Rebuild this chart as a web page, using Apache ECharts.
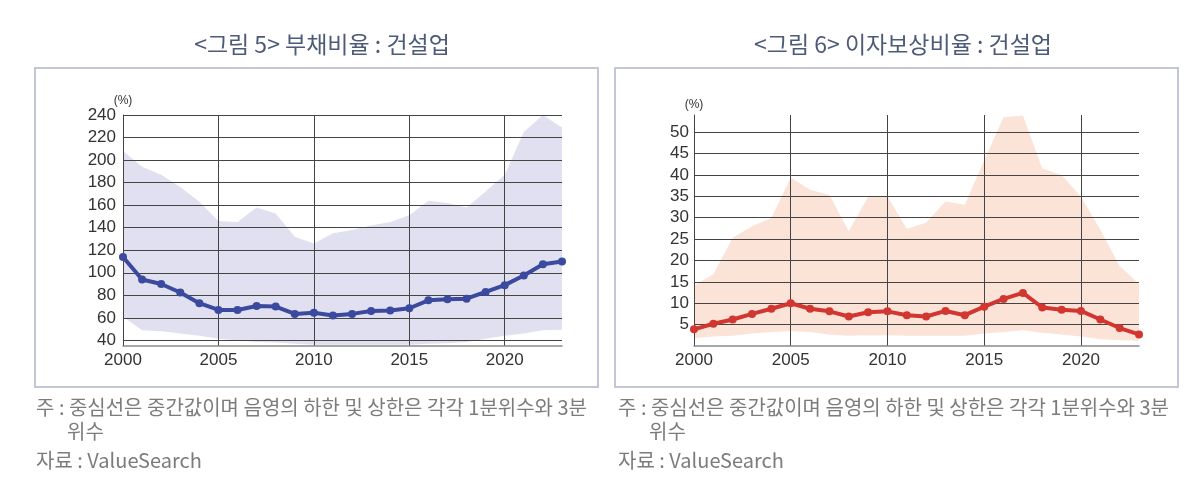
<!DOCTYPE html>
<html><head><meta charset="utf-8">
<script src="https://cdn.jsdelivr.net/npm/echarts@6/dist/echarts.min.js"></script>
<style>html,body{margin:0;padding:0;background:#fff}#c{width:1200px;height:498px}</style>
</head><body><div id="c"></div>
<script>
const years = ['2000','2001','2002','2003','2004','2005','2006','2007','2008','2009','2010','2011','2012','2013','2014','2015','2016','2017','2018','2019','2020','2021','2022','2023'];

// 그림 5: 부채비율
const debtMedian = [114, 94, 90, 82.5, 73, 67, 67, 70.5, 70, 63.5, 64.5, 62, 63.5, 66, 66.5, 68.5, 75.5, 76.5, 77, 83, 89, 97.5, 107.5, 110];
const debtQ1     = [61, 49, 48, 46, 44, 41.5, 40, 38.5, 38, 37, 36, 36, 36, 36, 36, 36, 37, 37.5, 38.5, 41.5, 44, 46, 49, 49.5];
const debtQ3     = [208, 194, 187, 176, 163, 146, 145, 158, 152.5, 132, 126, 135, 138, 142, 145, 151, 164, 162, 158, 172, 187, 225, 240, 229];
const debtTicks  = [40, 60, 80, 100, 120, 140, 160, 180, 200, 220, 240];

// 그림 6: 이자보상비율
const icrMedian = [3.9, 5.2, 6.2, 7.5, 8.7, 10.0, 8.7, 8.1, 6.9, 7.9, 8.1, 7.2, 6.9, 8.2, 7.2, 9.2, 11.0, 12.4, 9.0, 8.5, 8.2, 6.2, 4.2, 2.7];
const icrQ1     = [1.8, 2.2, 2.4, 2.9, 3.3, 3.5, 3.3, 2.7, 2.4, 2.5, 2.5, 2.4, 2.4, 2.4, 2.4, 2.9, 3.3, 3.7, 3.1, 2.7, 2.2, 1.6, 1.4, 1.2];
const icrQ3     = [14.1, 16.8, 25.3, 28, 29.9, 39.4, 36.5, 35.3, 26.8, 34.9, 34.9, 27.4, 28.8, 33.8, 33, 43.4, 53.5, 53.9, 41.5, 40, 34.9, 27.2, 18.7, 14.5];
const icrTicks  = [5, 10, 15, 20, 25, 30, 35, 40, 45, 50];

const titles = ['<그림 5> 부채비율 : 건설업', '<그림 6> 이자보상비율 : 건설업'];
const noteLine1 = '주 : 중심선은 중간값이며 음영의 하한 및 상한은 각각 1분위수와 3분';
const noteLine2 = '위수';
const sourceText = '자료 : ValueSearch';

const diff = (hi, lo) => hi.map((v, i) => +(v - lo[i]).toFixed(2));

const FONT_NUM = 'Liberation Sans';
const FONT_KR = '"Noto Sans CJK KR", "Noto Sans", sans-serif';

function xAxisCfg(gridIndex) {
  return {
    type: 'category', gridIndex, data: years, boundaryGap: false, z: 3,
    axisLine: { show: true, lineStyle: { color: '#8a8a8a', width: 1.5 } },
    axisTick: { show: false },
    axisLabel: { interval: (i) => i % 5 === 0, color: '#333', fontSize: 17, fontFamily: FONT_NUM, margin: 6 },
    splitLine: { show: true, interval: (i) => i % 5 === 0, lineStyle: { color: '#444', width: 1 } }
  };
}
function yAxisCfg(gridIndex, min, max, ticks, margin) {
  return {
    type: 'value', gridIndex, min, max, z: 3,
    name: '(%)', nameLocation: 'end', nameGap: 4,
    nameTextStyle: { color: '#333', fontSize: 12, fontFamily: FONT_NUM, align: 'center' },
    axisLine: { show: true, lineStyle: { color: '#444', width: 1 } },
    axisTick: { show: false, customValues: ticks },
    axisLabel: { customValues: ticks, color: '#333', fontSize: 17, fontFamily: FONT_NUM, margin },
    splitLine: { show: true, lineStyle: { color: '#444', width: 1 } }
  };
}
function bandSeries(idx, lo, hi, color, stack) {
  return [
    { type: 'line', xAxisIndex: idx, yAxisIndex: idx, data: lo, stack, symbol: 'none', lineStyle: { opacity: 0 }, silent: true, z: 1 },
    { type: 'line', xAxisIndex: idx, yAxisIndex: idx, data: diff(hi, lo), stack, symbol: 'none', lineStyle: { opacity: 0 }, areaStyle: { color, opacity: 1 }, silent: true, z: 1 }
  ];
}
function medianSeries(idx, data, color) {
  return { type: 'line', xAxisIndex: idx, yAxisIndex: idx, data, symbol: 'circle', symbolSize: 8,
    lineStyle: { color, width: 4 }, itemStyle: { color }, z: 5 };
}

const noteStyle = { fill: '#7c7c7c', fontSize: 20, fontFamily: FONT_KR };
function notes(x) {
  return [
    { type: 'text', left: x, top: 397, style: Object.assign({ text: noteLine1 }, noteStyle) },
    { type: 'text', left: x + 31, top: 421, style: Object.assign({ text: noteLine2 }, noteStyle) },
    { type: 'text', left: x, top: 450, style: Object.assign({ text: sourceText }, noteStyle) }
  ];
}

const chart = echarts.init(document.getElementById('c'), null, { renderer: 'canvas' });
chart.setOption({
  animation: false,
  backgroundColor: '#fff',
  title: [
    { text: titles[0], left: 317, top: 28, textAlign: 'center', textStyle: { color: '#4d5b78', fontSize: 23, fontWeight: 'normal', fontFamily: FONT_KR } },
    { text: titles[1], left: 898, top: 28, textAlign: 'center', textStyle: { color: '#4d5b78', fontSize: 23, fontWeight: 'normal', fontFamily: FONT_KR } }
  ],
  graphic: [
    { type: 'rect', shape: { x: 35, y: 68, width: 563, height: 319 }, style: { fill: 'none', stroke: '#c3c6d6', lineWidth: 2 }, z: -1 },
    { type: 'rect', shape: { x: 615, y: 68, width: 563, height: 319 }, style: { fill: 'none', stroke: '#c3c6d6', lineWidth: 2 }, z: -1 }
  ].concat(notes(36), notes(618)),
  grid: [
    { left: 123, right: 638, top: 115, bottom: 152 },
    { left: 694, right: 61, top: 115, bottom: 152 }
  ],
  xAxis: [xAxisCfg(0), xAxisCfg(1)],
  yAxis: [yAxisCfg(0, 35, 240, debtTicks, 7), yAxisCfg(1, 0, 54, icrTicks, 5)],
  series: [
    ...bandSeries(0, debtQ1, debtQ3, '#e1e0f0', 'd'),
    medianSeries(0, debtMedian, '#3b4a9f'),
    ...bandSeries(1, icrQ1, icrQ3, '#fbe3d8', 'i'),
    medianSeries(1, icrMedian, '#d23631')
  ]
});
</script>
</body></html>
